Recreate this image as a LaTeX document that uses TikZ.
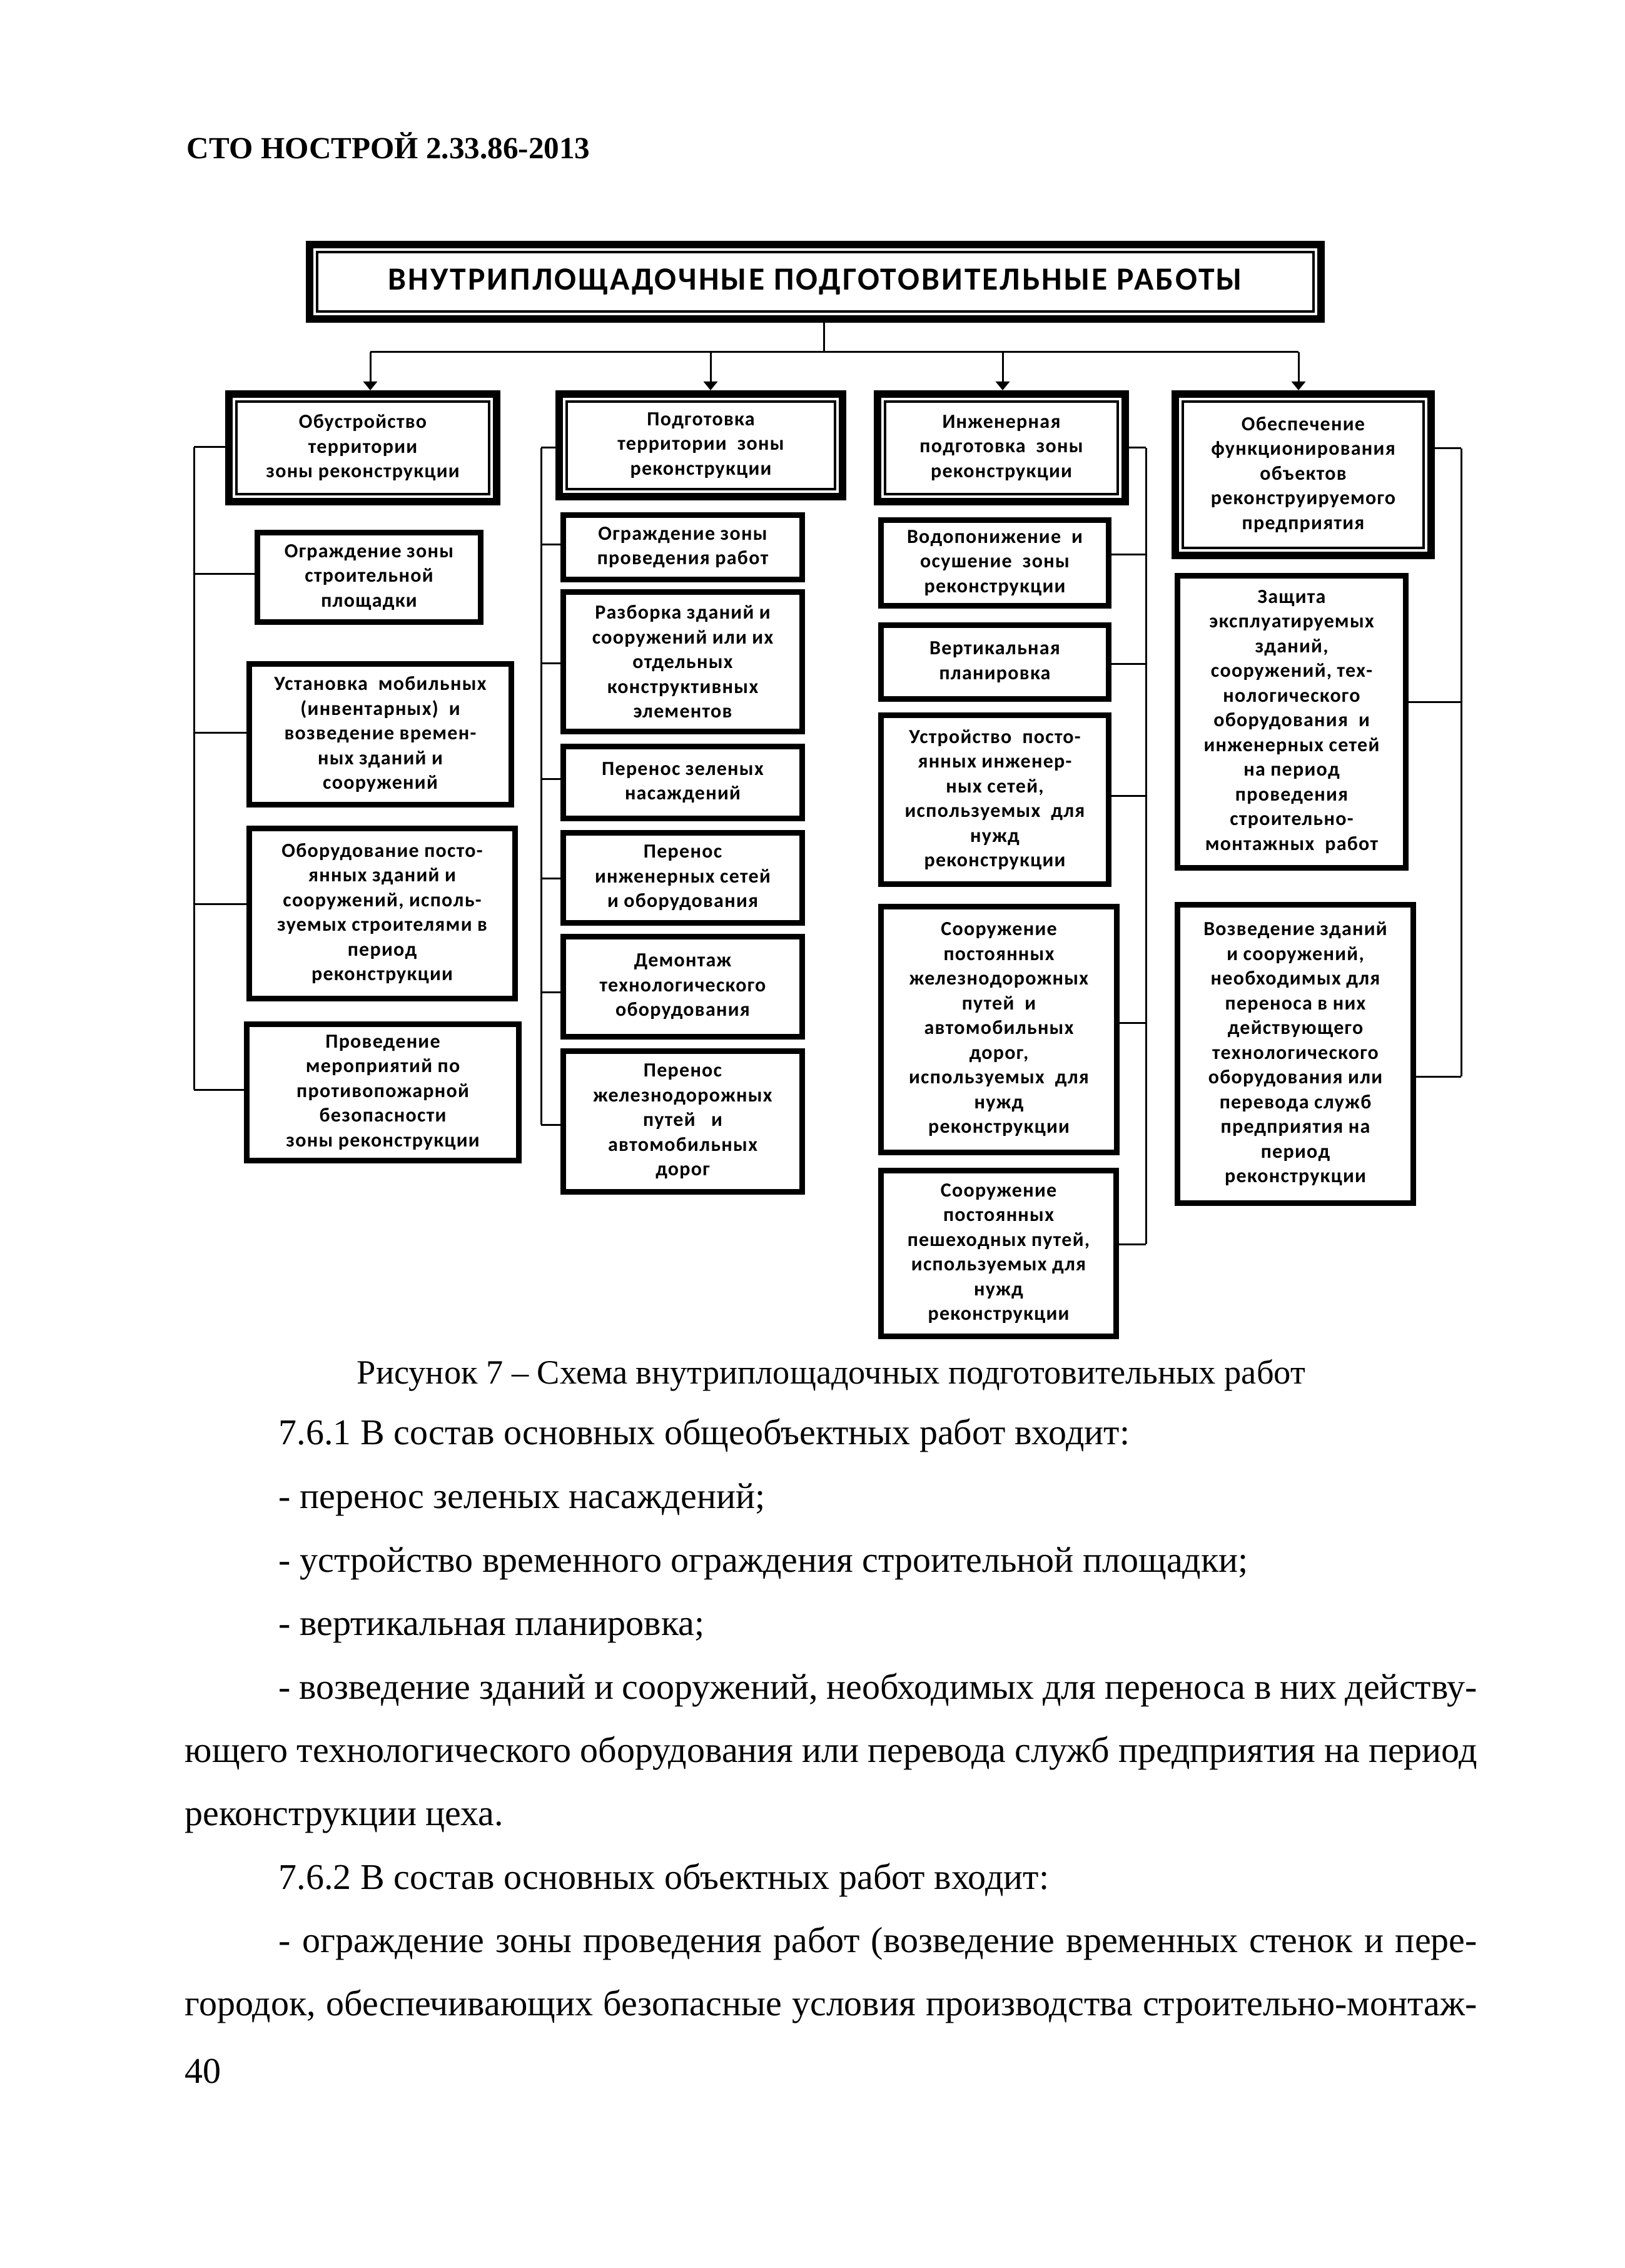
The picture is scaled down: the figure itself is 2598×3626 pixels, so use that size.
\documentclass[tikz,border=0pt]{standalone}
\usepackage{fontspec}
\setmainfont{Liberation Serif}
\newfontfamily\bxf[LetterSpace=4.0]{Carlito}
\newfontfamily\ttlf[LetterSpace=6.0]{Carlito}
\usetikzlibrary{arrows.meta}
\tikzset{
  conn/.style={line width=0.75pt},
  arr/.style={conn,-{Triangle[length=3.5pt,width=5.5pt]}},
  boxtext/.style={align=center, inner sep=0pt, outer sep=0pt,
    font=\bxf\bfseries\fontsize{8}{9.875}\selectfont},
  subbox/.style={boxtext, draw, line width=2.25pt},
  hdrbox/.style={boxtext},
  hframeout/.style={line width=3pt},
  hframein/.style={line width=1pt},
  body/.style={anchor=base west, inner sep=0pt, font=\fontsize{14.5}{17}\selectfont},
}
% sub box: name, x1, y1, x2, y2 (outer edges, px), text
\newcommand\sbx[6]{%
  \pgfmathsetmacro\bw{(#4-#2-9)*0.25}%
  \pgfmathsetmacro\bh{(#5-#3-9)*0.25}%
  \node[subbox, minimum width=\bw pt, minimum height=\bh pt] (#1) at ({(#2+#4)/2},{(#3+#5)/2}) {#6};}
% header box with double frame
\newcommand\hbx[7][hdrbox]{%
  \pgfmathsetmacro\bw{(#5-#3)*0.25}%
  \pgfmathsetmacro\bh{(#6-#4)*0.25}%
  \node[#1, minimum width=\bw pt, minimum height=\bh pt] (#2) at ({(#3+#5)/2},{(#4+#6)/2}) {#7};
  \draw[hframeout] ([shift={(6,6)}]#2.north west) rectangle ([shift={(-6,-6)}]#2.south east);
  \draw[hframein] ([shift={(18,18)}]#2.north west) rectangle ([shift={(-18,-18)}]#2.south east);}
\begin{document}
\begin{tikzpicture}[x=0.25pt,y=-0.25pt]
\useasboundingbox (0,0) rectangle (2598,3626);

\node[anchor=base west, inner sep=0pt, font=\bfseries\fontsize{12.3}{14}\selectfont] (doc) at (298,254) {СТО НОСТРОЙ 2.33.86-2013};

\hbx[hdrbox, font=\ttlf\bfseries\fontsize{12.9}{14}\selectfont]{top}{489}{385}{2118}{516}{ВНУТРИПЛОЩАДОЧНЫЕ ПОДГОТОВИТЕЛЬНЫЕ РАБОТЫ}

% column headers
\hbx{h1}{360}{624}{800}{808}{Обустройство\\территории\\зоны реконструкции}
\hbx{h2}{888}{624}{1353}{800}{Подготовка\\территории~ зоны\\реконструкции}
\hbx{h3}{1397}{624}{1805}{808}{Инженерная\\подготовка~ зоны\\реконструкции}
\hbx{h4}{1873}{624}{2294}{894}{Обеспечение\\функционирования\\объектов\\реконструируемого\\предприятия}

% column 1
\sbx{b1a}{407}{847}{773}{999}{Ограждение зоны\\строительной\\площадки}
\sbx{b1b}{394}{1057}{822}{1291}{Установка~ мобильных\\(инвентарных)~ и\\возведение времен-\\ных зданий и\\сооружений}
\sbx{b1c}{394}{1320}{828}{1601}{Оборудование посто-\\янных зданий и\\сооружений, исполь-\\зуемых строителями в\\период\\реконструкции}
\sbx{b1d}{390}{1633}{834}{1860}{Проведение\\мероприятий по\\противопожарной\\безопасности\\зоны реконструкции}

% column 2
\sbx{b2a}{896}{819}{1287}{931}{Ограждение зоны\\проведения работ}
\sbx{b2b}{896}{942}{1287}{1174}{Разборка зданий и\\сооружений или их\\отдельных\\конструктивных\\элементов}
\sbx{b2c}{896}{1189}{1287}{1313}{Перенос зеленых\\насаждений}
\sbx{b2d}{896}{1327}{1287}{1480}{Перенос\\инженерных сетей\\и оборудования}
\sbx{b2e}{896}{1493}{1287}{1662}{Демонтаж\\технологического\\оборудования}
\sbx{b2f}{896}{1676}{1287}{1910}{Перенос\\железнодорожных\\путей~~ и\\автомобильных\\дорог}

% column 3
\sbx{b3a}{1404}{827}{1777}{973}{Водопонижение~ и\\осушение~ зоны\\реконструкции}
\sbx{b3b}{1404}{995}{1777}{1122}{Вертикальная\\планировка}
\sbx{b3c}{1404}{1139}{1777}{1418}{Устройство~ посто-\\янных инженер-\\ных сетей,\\используемых~ для\\нужд\\реконструкции}
\sbx{b3d}{1404}{1445}{1790}{1847}{Сооружение\\постоянных\\железнодорожных\\путей~ и\\автомобильных\\дорог,\\используемых~ для\\нужд\\реконструкции}
\sbx{b3e}{1404}{1867}{1789}{2141}{Сооружение\\постоянных\\пешеходных путей,\\используемых для\\нужд\\реконструкции}

% column 4
\sbx{b4a}{1878}{916}{2252}{1392}{Защита\\эксплуатируемых\\зданий,\\сооружений, тех-\\нологического\\оборудования~ и\\инженерных сетей\\на период\\проведения\\строительно-\\монтажных~ работ}
\sbx{b4b}{1878}{1442}{2264}{1928}{Возведение зданий\\и сооружений,\\необходимых для\\переноса в них\\действующего\\технологического\\оборудования или\\перевода служб\\предприятия на\\период\\реконструкции}

% top connectors
\coordinate (j0) at (1317,563);
\coordinate (a1) at (592,563);
\coordinate (a2) at (1136,563);
\coordinate (a3) at (1603,563);
\coordinate (a4) at (2076,563);
\draw[conn] (top.south -| j0) -- (j0);
\draw[conn] (a1) -- (a4);
\foreach \a/\h in {a1/h1,a2/h2,a3/h3,a4/h4}
  \draw[arr] (\a) -- (\a |- \h.north);

% brackets
\coordinate (L1t) at (310,715);  \coordinate (L1b) at (310,1742);
\coordinate (L2t) at (865,716);  \coordinate (L2b) at (865,1798);
\coordinate (R3t) at (1832,716); \coordinate (R3b) at (1832,1989);
\coordinate (R4t) at (2336,717); \coordinate (R4b) at (2336,1721);
\draw[conn] (L1t) -- (L1b);
\draw[conn] (L2t) -- (L2b);
\draw[conn] (R3t) -- (R3b);
\draw[conn] (R4t) -- (R4b);
\foreach \n/\yy in {h1/715,b1a/917,b1b/1171,b1c/1445,b1d/1742}
  \draw[conn] (\n.west |- 0,\yy) -- (L1t |- 0,\yy);
\foreach \n/\yy in {h2/716,b2a/870,b2b/1060,b2c/1245,b2d/1404,b2e/1586,b2f/1798}
  \draw[conn] (\n.west |- 0,\yy) -- (L2t |- 0,\yy);
\foreach \n/\yy in {h3/716,b3a/886,b3b/1061,b3c/1272,b3d/1635,b3e/1989}
  \draw[conn] (\n.east |- 0,\yy) -- (R3t |- 0,\yy);
\foreach \n/\yy in {h4/717,b4a/1122,b4b/1721}
  \draw[conn] (\n.east |- 0,\yy) -- (R4t |- 0,\yy);

% caption and body text
\node[anchor=base, inner sep=0pt, font=\fontsize{13.6}{16}\selectfont] (cap) at (1329,2212) {Рисунок 7 – Схема внутриплощадочных подготовительных работ};
\node[body] (t0) at (445,2309) {7.6.1 В состав основных общеобъектных работ входит:};
\node[body] (t1) at (445,2411) {- перенос зеленых насаждений;};
\node[body] (t2) at (445,2513) {- устройство временного ограждения строительной площадки;};
\node[body] (t3) at (445,2614) {- вертикальная планировка;};
\node[body] (t4) at (445,2716) {\makebox[479pt][s]{- возведение зданий и сооружений, необходимых для переноса в них действу-}};
\node[body] (t5) at (295,2817) {\makebox[516.5pt][s]{ющего технологического оборудования или перевода служб предприятия на период}};
\node[body] (t6) at (295,2918) {реконструкции цеха.};
\node[body] (t7) at (445,3020) {7.6.2 В состав основных объектных работ входит:};
\node[body] (t8) at (445,3121) {\makebox[479pt][s]{- ограждение зоны проведения работ (возведение временных стенок и пере-}};
\node[body] (t9) at (295,3222) {\makebox[516.5pt][s]{городок, обеспечивающих безопасные условия производства строительно-монтаж-}};
\node[body] (pg) at (295,3330) {40};
\end{tikzpicture}
\end{document}
